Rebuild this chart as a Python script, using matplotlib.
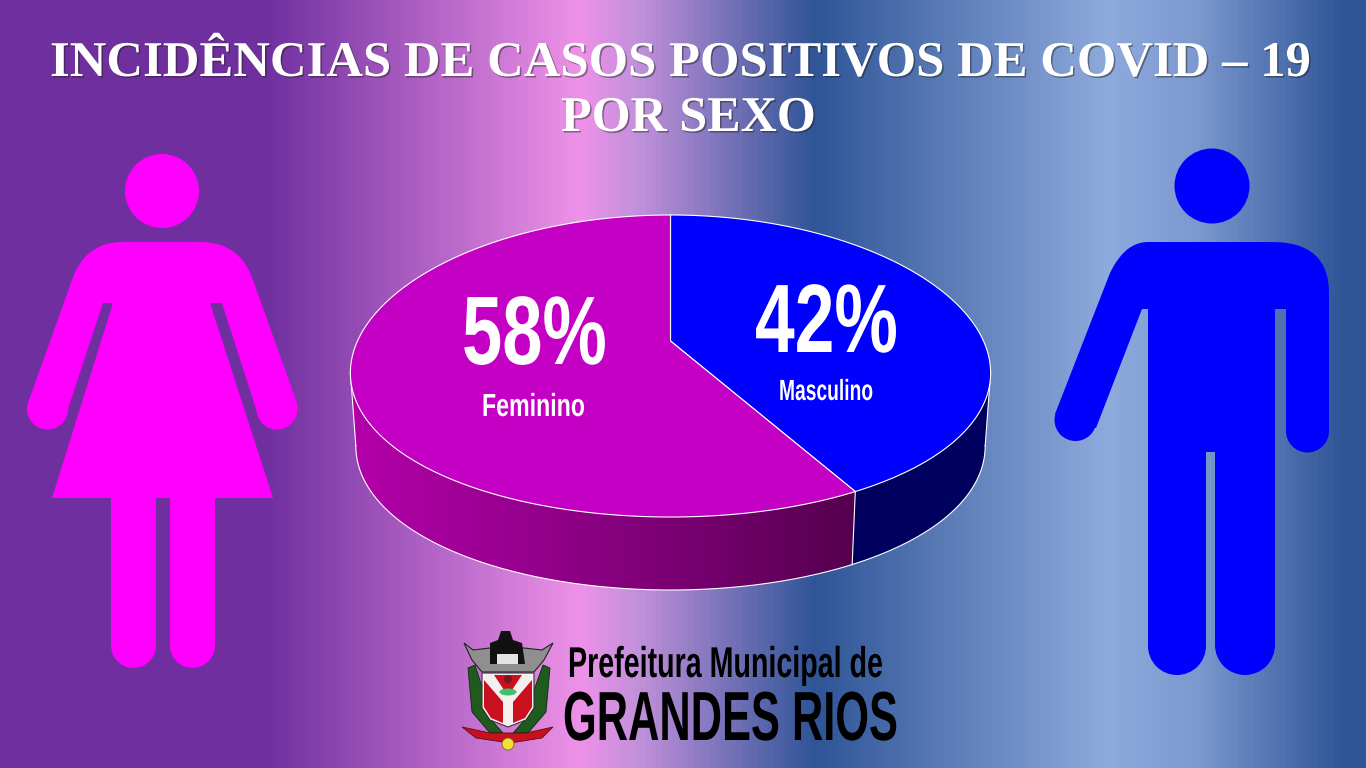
import numpy as np
import matplotlib
matplotlib.use("Agg")
import matplotlib.pyplot as plt
from matplotlib.colors import LinearSegmentedColormap
from matplotlib.patches import Polygon, Circle, Ellipse
from matplotlib.transforms import Affine2D
import matplotlib.patheffects as pe

# ---- data ----
categories = ["Masculino", "Feminino"]
values = [42, 58]
labels_pct = ["42%", "58%"]
title_lines = ["INCIDÊNCIAS DE CASOS POSITIVOS DE COVID – 19", "POR SEXO"]
logo_lines = ["Prefeitura Municipal de", "GRANDES RIOS"]

top_colors = ["#0000ff", "#c400c4"]
PINK = "#ff00ff"
BLUE = "#0000ff"

fig = plt.figure(figsize=(13.66, 7.68), dpi=100)
ax = fig.add_axes([0, 0, 1, 1])
ax.set_xlim(0, 1366)
ax.set_ylim(768, 0)
ax.axis("off")


class Stretch(pe.AbstractPathEffect):
    """Draws the real text narrowed or widened horizontally about a display x."""
    def __init__(self, cx, sx, shadow=None):
        super().__init__()
        self.cx, self.sx, self.shadow = cx, sx, shadow

    def draw_path(self, renderer, gc, tpath, affine, rgbFace=None):
        tr = affine + Affine2D().translate(-self.cx, 0).scale(self.sx, 1).translate(self.cx, 0)
        if self.shadow:
            gc0 = renderer.new_gc()
            gc0.copy_properties(gc)
            gc0.set_alpha(self.shadow[1])
            gc0.set_linewidth(0)
            off = Affine2D().translate(self.shadow[0], -self.shadow[0])
            renderer.draw_path(gc0, tpath, tr + off, (0.1, 0.1, 0.1))
            gc0.restore()
        renderer.draw_path(gc, tpath, tr, rgbFace)


def fit_text(s, x0, x1, baseline, size, family, color, zorder=6, shadow=None):
    """Real text whose ink spans x0..x1 pixels at a given font size."""
    cx = (x0 + x1) / 2
    t = ax.text(cx, baseline, s, color=color, fontsize=size, family=family, weight="bold",
                ha="center", va="baseline", zorder=zorder)
    width = t.get_window_extent(fig.canvas.get_renderer()).width
    t.set_path_effects([Stretch(cx, (x1 - x0) / width, shadow)])
    return t


def quad(p0, c, p1, n=16):
    s = np.linspace(0, 1, n)[:, None]
    return list(map(tuple, (1 - s) ** 2 * np.array(p0) + 2 * s * (1 - s) * np.array(c) + s ** 2 * np.array(p1)))


# background
stops = [(0, "#6f2f9f"), (265, "#7030a0"), (580, "#ee92e8"), (640, "#c090da"), (815, "#2f5597"),
         (1110, "#8faadc"), (1200, "#7c98cf"), (1345, "#2f5597"), (1366, "#2f5597")]
cmap = LinearSegmentedColormap.from_list("bg", [(p / 1366, c) for p, c in stops])
ax.imshow(np.linspace(0, 1, 1366)[None, :], cmap=cmap, extent=(0, 1366, 768, 0), aspect="auto", zorder=0)


# pie geometry
def rim(theta):
    u, v = np.sin(theta), np.cos(theta)
    y = (341 - 90.4 * v) / (1 + 0.1656 * v)
    x = 670.5 + 313 * u / (1 + 0.21 * v)
    return x, y


def lower(x, y):
    return 670.5 + (x - 670.5) * 0.983, y + 73


fractions = np.cumsum([0] + values) / sum(values) * 2 * np.pi
split = fractions[1]
scan = np.linspace(0, 2 * np.pi, 1441)
sx_scan = rim(scan)[0]
t_right, t_left = scan[np.argmax(sx_scan)], scan[np.argmin(sx_scan)]


def side_poly(t0, t1):
    th = np.linspace(t0, t1, 240)
    x, y = rim(th)
    xl, yl = lower(x, y)
    return np.column_stack([np.r_[x, xl[::-1]], np.r_[y, yl[::-1]]])


ax.add_patch(Polygon(side_poly(t_right, split), closed=True, fc="#00005f", ec="none", zorder=2))
side_pink = Polygon(side_poly(split, t_left), closed=True, fc="none", ec="none", zorder=2)
ax.add_patch(side_pink)
side_cmap = LinearSegmentedColormap.from_list("side", ["#b400aa", "#880080", "#55004f"])
im = ax.imshow(np.linspace(0, 1, 512)[None, :], cmap=side_cmap, extent=(350, 855, 600, 360), aspect="auto", zorder=2)
im.set_clip_path(side_pink)

# rim lines
th = np.linspace(t_right, t_left, 400)
xr, yr = lower(*rim(th))
ax.plot(xr, yr, color="white", lw=0.8, zorder=3)
for t in (t_right, split, t_left):
    xs, ys = rim(np.array([t]))
    xl, yl = lower(xs, ys)
    ax.plot([xs[0], xl[0]], [ys[0], yl[0]], color="white", lw=0.8, zorder=3)

# top faces
apex = (670.5, 341)
for i, col in enumerate(top_colors):
    th = np.linspace(fractions[i], fractions[i + 1], 300)
    x, y = rim(th)
    pts = np.column_stack([np.r_[apex[0], x], np.r_[apex[1], y]])
    ax.add_patch(Polygon(pts, closed=True, fc=col, ec="white", lw=0.8, zorder=4, joinstyle="round"))

# pie labels
cond = "Liberation Sans"
fit_text(labels_pct[0], 755, 898, 352, 70, cond, "white", 5)
fit_text(labels_pct[1], 462, 607, 364, 70, cond, "white", 5)
fit_text(categories[0], 779, 873, 400, 21, cond, "white", 5)
fit_text(categories[1], 482, 585, 416, 23, cond, "white", 5)

# title
fit_text(title_lines[0], 50, 1312, 76, 36, "Liberation Serif", "white", 6, (1.5, 0.45))
fit_text(title_lines[1], 561, 816, 131, 36, "Liberation Serif", "white", 6, (1.5, 0.45))

# woman pictogram
ax.add_patch(Circle((162, 191), 37, fc=PINK, ec="none", zorder=2))
woman = (quad((72, 280), (85, 242), (123, 242)) + quad((200, 242), (240, 242), (253, 280)) +
         [(297, 403), (257, 412), (222, 303), (210, 303), (273, 498), (52, 498), (113, 303), (103, 303),
          (67, 412), (28, 403)])
ax.add_patch(Polygon(woman, closed=True, fc=PINK, ec="none", zorder=2))
ax.add_patch(Circle((277, 409), 20.5, fc=PINK, ec="none", zorder=2))
ax.add_patch(Circle((47.5, 409), 20.5, fc=PINK, ec="none", zorder=2))
for xc in (132.5, 191.5):
    ax.plot([xc, xc], [490, 644.5], color=PINK, lw=45 * 0.72, solid_capstyle="round", zorder=2)

# man pictogram
ax.add_patch(Circle((1212, 186), 37.5, fc=BLUE, ec="none", zorder=2))
man = (quad((1110, 273), (1125, 242), (1148, 242)) + quad((1272, 242), (1329, 242), (1329, 293)) +
       [(1329, 431), (1286, 431), (1286, 309), (1275, 309), (1275, 645), (1215, 645), (1215, 452),
        (1206, 452), (1206, 645), (1148, 645), (1148, 309), (1142, 309), (1096, 428), (1055, 414)])
ax.add_patch(Polygon(man, closed=True, fc=BLUE, ec="none", zorder=2))
ax.add_patch(Circle((1307.5, 431), 21.5, fc=BLUE, ec="none", zorder=2))
ax.add_patch(Circle((1075.5, 420), 21, fc=BLUE, ec="none", zorder=2))
ax.add_patch(Circle((1177, 646), 29, fc=BLUE, ec="none", zorder=2))
ax.add_patch(Circle((1245, 645), 30, fc=BLUE, ec="none", zorder=2))

# logo text
fit_text(logo_lines[0], 568, 882, 677, 31, cond, "black")
fit_text(logo_lines[1], 563, 898, 740, 50, cond, "black")

# coat of arms (decorative)
z = 6
ax.add_patch(Polygon([(468, 668), (475, 665), (483, 690), (484, 712), (503, 733), (490, 733), (472, 712)],
                     fc="#1f5a1f", ec="#0c2c0c", lw=0.6, zorder=z))
ax.add_patch(Polygon([(550, 668), (543, 665), (534, 690), (532, 712), (513, 733), (528, 733), (546, 712)],
                     fc="#1f5a1f", ec="#0c2c0c", lw=0.6, zorder=z))
# crown
ax.add_patch(Polygon([(464, 643), (473, 650), (490, 648), (524, 648), (542, 650), (553, 643), (544, 660),
                      (534, 672), (482, 672), (472, 660)], fc="#8f8f8f", ec="#222222", lw=0.8, zorder=z))
ax.add_patch(Polygon([(490, 664), (490, 643), (498, 640), (501, 631), (510, 631), (513, 640), (522, 643),
                      (525, 664)], fc="#111111", ec="none", zorder=z))
ax.add_patch(Polygon([(497, 654), (518, 654), (518, 664), (497, 664)], fc="#e4e4e4", ec="none", zorder=z))
# shield
shield = [(482, 673), (534, 673), (534, 708), (526, 720), (508, 727), (490, 720), (482, 708)]
ax.add_patch(Polygon(shield, fc="#f5f0f0", ec="#333333", lw=0.8, zorder=z))
ax.add_patch(Polygon([(494, 675), (522, 675), (512, 690), (504, 690)], fc="#c8101e", ec="none", zorder=z))
ax.add_patch(Polygon([(484, 680), (503, 702), (503, 723), (491, 718), (484, 707)], fc="#c8101e", ec="none", zorder=z))
ax.add_patch(Polygon([(532, 680), (513, 702), (513, 723), (525, 718), (532, 707)], fc="#c8101e", ec="none", zorder=z))
ax.add_patch(Circle((508, 679), 4, fc="#7a1520", ec="none", zorder=z))
ax.add_patch(Ellipse((508, 692), 17, 7, fc="#3fbf6f", ec="none", zorder=z))
# ribbon and gear
ax.add_patch(Polygon([(462, 727), (490, 733), (526, 733), (553, 727), (542, 738), (510, 743), (476, 738)],
                     fc="#c8101e", ec="#551111", lw=0.6, zorder=z))
ax.add_patch(Circle((508, 744), 6, fc="#f2e03a", ec="#7a6a10", lw=0.6, zorder=z))

ax.set_xlim(0, 1366)
ax.set_ylim(768, 0)
fig.savefig("out.png", dpi=100)
